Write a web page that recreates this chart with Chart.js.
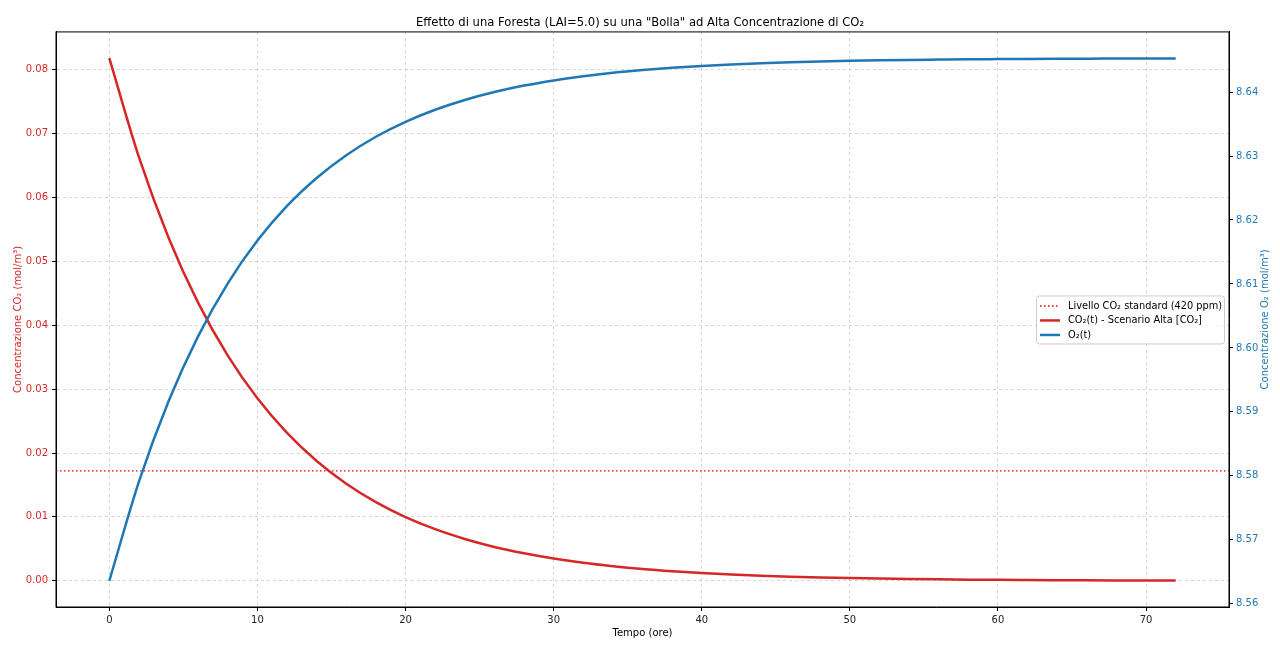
<!DOCTYPE html>
<html>
<head>
<meta charset="utf-8">
<script src="https://cdn.jsdelivr.net/npm/chart.js@4.4.1/dist/chart.umd.min.js"></script>
<style>
  body { margin: 0; background: #fff; }
  #wrap { width: 1280px; height: 649px; }
</style>
</head>
<body>
<div id="wrap"><canvas id="chart"></canvas></div>
<script>
// time in hours
const hours = [0, 2, 4, 6, 8, 10, 12, 14, 16, 18, 20, 22, 24, 26, 28, 30, 32, 34, 36,
  38, 40, 42, 44, 46, 48, 50, 52, 54, 56, 58, 60, 62, 64, 66, 68, 70, 72];

// CO2 concentration (mol/m3)
const co2 = [0.0818, 0.0663, 0.0537, 0.0435, 0.03525, 0.02856, 0.02314, 0.01875, 0.01519,
  0.01231, 0.00997, 0.00808, 0.00655, 0.0053, 0.0043, 0.00348, 0.00282, 0.00229, 0.00185,
  0.0015, 0.001216, 0.000985, 0.000798, 0.000646, 0.000524, 0.000425, 0.000344, 0.000278,
  0.000226, 0.000182, 0.000148, 0.00012, 0.000097, 0.000079, 0.000064, 0.000052, 0.000042];

// O2 concentration (mol/m3)
const o2 = [8.5636, 8.57911, 8.59167, 8.60185, 8.6101, 8.61678, 8.6222, 8.62657, 8.63013,
  8.63301, 8.63534, 8.63723, 8.63876, 8.64, 8.64101, 8.64182, 8.64248, 8.64302, 8.64345,
  8.6438, 8.64409, 8.64432, 8.6445, 8.64465, 8.64478, 8.64488, 8.64496, 8.64502, 8.64507,
  8.64512, 8.64515, 8.64518, 8.6452, 8.64522, 8.64524, 8.64525, 8.64526];

// standard CO2 level (420 ppm)
const co2Standard = 0.0172;

const xTicks = [0, 10, 20, 30, 40, 50, 60, 70];
const co2Ticks = [0, 0.01, 0.02, 0.03, 0.04, 0.05, 0.06, 0.07, 0.08];
const o2Ticks = [8.56, 8.57, 8.58, 8.59, 8.60, 8.61, 8.62, 8.63, 8.64];

const xMin = -3.6, xMax = 75.6;
const RED = "#d62728";
const BLUE = "#1f77b4";
const FONT = "DejaVu Sans";

const legendItems = [
  { label: "Livello CO\u2082 standard (420 ppm)", color: "red", dash: [1.5, 2.5], width: 1.5 },
  { label: "CO\u2082(t) - Scenario Alta [CO\u2082]", color: RED, dash: [], width: 2.5 },
  { label: "O\u2082(t)", color: BLUE, dash: [], width: 2.5 }
];

// box round the plot, right axis title and the legend inside the plot
const extras = {
  id: "extras",
  afterDraw(chart) {
    const ctx = chart.ctx;
    const a = chart.chartArea;
    ctx.save();
    ctx.strokeStyle = "#000";
    ctx.lineWidth = 1;
    ctx.strokeRect(a.left, a.top, a.right - a.left, a.bottom - a.top);

    // right axis title, reading bottom to top
    ctx.fillStyle = BLUE;
    ctx.font = "10px '" + FONT + "'";
    ctx.textAlign = "center";
    ctx.textBaseline = "middle";
    ctx.translate(1265, (a.top + a.bottom) / 2);
    ctx.rotate(-Math.PI / 2);
    ctx.fillText("Concentrazione O\u2082 (mol/m\u00b3)", 0, 0);
    ctx.restore();

    // legend
    ctx.save();
    const w = 188, h = 48;
    const x0 = a.right - 5 - w;
    const y0 = (a.top + a.bottom) / 2 - h / 2;
    ctx.fillStyle = "rgba(255,255,255,0.8)";
    ctx.strokeStyle = "#cccccc";
    ctx.lineWidth = 1;
    ctx.beginPath();
    ctx.roundRect(x0 + 0.5, y0 + 0.5, w, h, 3);
    ctx.fill();
    ctx.stroke();
    ctx.font = "9.8px '" + FONT + "'";
    ctx.textAlign = "left";
    ctx.textBaseline = "middle";
    legendItems.forEach((it, i) => {
      const y = y0 + 10.5 + i * 14.5;
      ctx.strokeStyle = it.color;
      ctx.lineWidth = it.width;
      ctx.setLineDash(it.dash);
      ctx.beginPath();
      ctx.moveTo(x0 + 4, y);
      ctx.lineTo(x0 + 24, y);
      ctx.stroke();
      ctx.setLineDash([]);
      ctx.fillStyle = "#000";
      ctx.fillText(it.label, x0 + 32, y);
    });
    ctx.restore();
  }
};

const gridStyle = {
  color: "rgba(176,176,176,0.65)",
  lineWidth: 0.8,
  tickColor: "#000",
  tickLength: 4,
  tickWidth: 1,
  tickBorderDash: []
};

new Chart(document.getElementById("chart"), {
  type: "line",
  data: {
    datasets: [
      {
        label: "O2(t)",
        data: hours.map((t, i) => ({ x: t, y: o2[i] })),
        yAxisID: "yO2",
        borderColor: BLUE,
        borderWidth: 2.5,
        pointRadius: 0,
        cubicInterpolationMode: "monotone",
        order: 0
      },
      {
        label: "CO2(t)",
        data: hours.map((t, i) => ({ x: t, y: co2[i] })),
        yAxisID: "yCO2",
        borderColor: RED,
        borderWidth: 2.5,
        pointRadius: 0,
        cubicInterpolationMode: "monotone",
        order: 1
      },
      {
        label: "standard",
        data: [{ x: xMin, y: co2Standard }, { x: xMax, y: co2Standard }],
        yAxisID: "yCO2",
        borderColor: "red",
        borderWidth: 1.3,
        borderDash: [1.5, 2.5],
        pointRadius: 0,
        order: 2
      }
    ]
  },
  options: {
    responsive: true,
    maintainAspectRatio: false,
    animation: false,
    layout: { padding: 0 },
    plugins: {
      legend: { display: false },
      tooltip: { enabled: false },
      title: {
        display: true,
        text: "Effetto di una Foresta (LAI=5.0) su una \"Bolla\" ad Alta Concentrazione di CO\u2082",
        color: "#000",
        font: { family: FONT, size: 11.6, weight: "normal", lineHeight: 1.2 },
        padding: { top: 16, bottom: 2 }
      }
    },
    scales: {
      x: {
        type: "linear",
        min: xMin,
        max: xMax,
        afterBuildTicks: s => { s.ticks = xTicks.map(v => ({ value: v })); },
        afterFit: s => { s.height = 42; },
        ticks: { color: "#222", font: { family: FONT, size: 10 }, padding: 3, maxRotation: 0 },
        grid: gridStyle,
        border: { display: true, color: "#000", width: 1, dash: [3, 3] },
        title: {
          display: true,
          text: "Tempo (ore)",
          color: "#000",
          font: { family: FONT, size: 10 },
          padding: { top: 0, bottom: 10 }
        }
      },
      yCO2: {
        type: "linear",
        position: "left",
        min: -0.0041,
        max: 0.0859,
        afterBuildTicks: s => { s.ticks = co2Ticks.map(v => ({ value: v })); },
        afterFit: s => { s.width = 56; },
        ticks: {
          color: RED,
          font: { family: FONT, size: 10 },
          padding: 4,
          callback: v => v.toFixed(2)
        },
        grid: gridStyle,
        border: { display: true, color: "#000", width: 1, dash: [3, 3] },
        title: {
          display: true,
          text: "Concentrazione CO\u2082 (mol/m\u00b3)",
          color: RED,
          font: { family: FONT, size: 10 },
          padding: { top: 12, bottom: 0 }
        }
      },
      yO2: {
        type: "linear",
        position: "right",
        min: 8.5595,
        max: 8.6494,
        afterBuildTicks: s => { s.ticks = o2Ticks.map(v => ({ value: v })); },
        afterFit: s => { s.width = 51; },
        ticks: {
          color: BLUE,
          font: { family: FONT, size: 10 },
          padding: 3,
          callback: v => v.toFixed(2)
        },
        grid: { drawOnChartArea: false, tickColor: "#000", tickLength: 4, tickWidth: 1 },
        border: { display: true, color: "#000", width: 1 }
      }
    }
  },
  plugins: [extras]
});
</script>
</body>
</html>
